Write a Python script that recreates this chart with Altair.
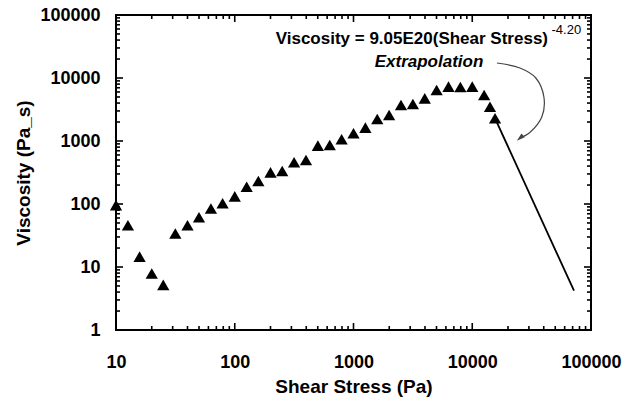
import altair as alt
import pandas as pd

W, H = 475, 315
FONT = "Liberation Sans"

# measured data (triangles)
stress = [10, 12.6, 15.8, 20, 25, 31.6, 40, 50, 63, 79, 100, 126, 158, 200, 251,
          316, 398, 501, 631, 794, 1000, 1259, 1585, 1995, 2512, 3162, 3981, 5012,
          6310, 7943, 10000, 12589, 14100, 15560]
viscosity = [96, 46, 14.6, 7.9, 5.2, 34, 46, 61.5, 85, 103, 132, 188, 232, 318, 334,
             459, 499, 843, 864, 1064, 1325, 1628, 2234, 2587, 3727, 3866, 4757, 6449,
             7300, 7200, 7300, 5372, 3505, 2291]

# extrapolation line end points
ext_stress = [15560, 71900]
ext_visc = [2290, 4.2]

# annotation arrow path (data coordinates)
arrow_x = [16140, 25230, 34300, 40180, 38500, 30700, 25230]
arrow_y = [17300, 14400, 10000, 4900, 2400, 1380, 1112]
head_x = [25230]
head_y = [1112]

# axis tick labels
x_labels = [10, 100, 1000, 10000, 100000]
y_labels = [1, 10, 100, 1000, 10000, 100000]
x_minor = [m * 10 ** k for k in range(1, 5) for m in range(2, 10)]
y_minor = [m * 10 ** k for k in range(0, 5) for m in range(2, 10)]

# annotation texts
eq_text = ["Viscosity = 9.05E20(Shear Stress)"]
eq_x, eq_y = [43450], [41600]
exp_text = ["-4.20"]
exp_x, exp_y = [46500], [58500]
ext_text = ["Extrapolation"]
ext_tx, ext_ty = [4325], [17950]

xs = alt.Scale(type="log", domain=[10, 100000], nice=False)
ys = alt.Scale(type="log", domain=[1, 100000], nice=False)

x_axis = alt.Axis(values=x_labels, format="d", ticks=False, tickSize=0, domain=False,
                  grid=False, labelFlush=False, labelPadding=23, labelOverlap=False,
                  title="Shear Stress (Pa)", titlePadding=6)
y_axis = alt.Axis(values=y_labels, format="d", ticks=False, tickSize=0, domain=False,
                  grid=False, labelFlush=False, labelPadding=16, labelOverlap=False,
                  title="Viscosity (Pa_s)", titlePadding=6)


def X(field):
    return alt.X(f"{field}:Q", scale=xs, axis=x_axis)


def Y(field):
    return alt.Y(f"{field}:Q", scale=ys, axis=y_axis)


layers = []

# tick marks on all four sides (inward)
for vals, length in [(x_labels, 7), (x_minor, 4)]:
    df = pd.DataFrame({"v": vals})
    layers.append(alt.Chart(df).mark_rule(color="black", strokeWidth=1.6).encode(
        x=X("v"), y=alt.value(H), y2=alt.value(H - length)))
    layers.append(alt.Chart(df).mark_rule(color="black", strokeWidth=1.6).encode(
        x=X("v"), y=alt.value(0), y2=alt.value(length)))
for vals, length in [(y_labels, 7), (y_minor, 4)]:
    df = pd.DataFrame({"v": vals})
    layers.append(alt.Chart(df).mark_rule(color="black", strokeWidth=1.6).encode(
        y=Y("v"), x=alt.value(0), x2=alt.value(length)))
    layers.append(alt.Chart(df).mark_rule(color="black", strokeWidth=1.6).encode(
        y=Y("v"), x=alt.value(W), x2=alt.value(W - length)))

# extrapolation line
ext_df = pd.DataFrame({"x": ext_stress, "y": ext_visc})
layers.append(alt.Chart(ext_df).mark_line(color="black", strokeWidth=1.8).encode(
    x=X("x"), y=Y("y")))

# measured points
pts = pd.DataFrame({"x": stress, "y": viscosity})
layers.append(alt.Chart(pts).mark_point(shape="triangle-up", filled=True, color="black",
                                        opacity=1, size=150, strokeWidth=0).encode(
    x=X("x"), y=Y("y")))

# curved arrow
arr = pd.DataFrame({"x": arrow_x, "y": arrow_y, "o": list(range(len(arrow_x)))})
layers.append(alt.Chart(arr).mark_line(color="#444444", strokeWidth=1.2,
                                       interpolate="catmull-rom").encode(
    x=X("x"), y=Y("y"), order="o:Q"))
head = pd.DataFrame({"x": head_x, "y": head_y})
layers.append(alt.Chart(head).mark_point(shape="M0,-1L0.6,1L-0.6,1Z", filled=True,
                                         color="#444444", opacity=1, size=70,
                                         angle=229, strokeWidth=0).encode(
    x=X("x"), y=Y("y")))

# annotation texts
eq_df = pd.DataFrame({"x": eq_x, "y": eq_y, "t": eq_text})
layers.append(alt.Chart(eq_df).mark_text(font=FONT, fontSize=17, fontWeight="bold",
                                         align="right", baseline="middle",
                                         color="black").encode(
    x=X("x"), y=Y("y"), text="t:N"))
exp_df = pd.DataFrame({"x": exp_x, "y": exp_y, "t": exp_text})
layers.append(alt.Chart(exp_df).mark_text(font=FONT, fontSize=13, align="left",
                                          baseline="middle", color="black").encode(
    x=X("x"), y=Y("y"), text="t:N"))
ext_df2 = pd.DataFrame({"x": ext_tx, "y": ext_ty, "t": ext_text})
layers.append(alt.Chart(ext_df2).mark_text(font=FONT, fontSize=17, fontWeight="bold",
                                           fontStyle="italic", align="center",
                                           baseline="middle", color="black").encode(
    x=X("x"), y=Y("y"), text="t:N"))

chart = alt.layer(*layers).properties(
    width=W, height=H,
    autosize=alt.AutoSizeParams(type="none"),
    padding={"left": 116, "top": 15, "right": 42, "bottom": 67},
    background="white",
).configure_view(
    stroke="black", strokeWidth=2
).configure_axis(
    labelFont=FONT, labelFontSize=18, labelFontWeight="bold", labelColor="black",
    titleFont=FONT, titleFontSize=19, titleFontWeight="bold", titleColor="black",
)

chart.save("out.html", embed_options={"renderer": "svg", "actions": False})
